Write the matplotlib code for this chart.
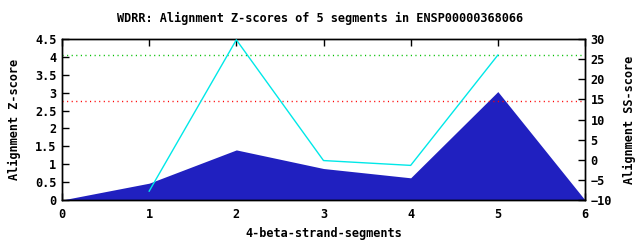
import numpy as np
import matplotlib
matplotlib.use("Agg")
import matplotlib.pyplot as plt

TITLE = "WDRR: Alignment Z-scores of 5 segments in ENSP00000368066"

SEGMENTS = [0, 1, 2, 3, 4, 5, 6]
Z_SCORES = [0.0, 0.47, 1.40, 0.88, 0.62, 3.03, 0.0]

SS_X = [1, 2, 3, 4, 5]
SS_SCORES = [-7.8, 29.8, -0.2, -1.4, 26.0]

RED_LEVEL = 2.78
GREEN_LEVEL = 4.04

FONT = dict(family="DejaVu Sans Mono", fontweight="bold", fontsize=8.6)

fig = plt.figure(figsize=(6.4, 2.4), dpi=100)
W, H = 640, 240
ax = fig.add_axes([62 / W, (H - 200) / H, (585 - 62) / W, (200 - 39) / H])
ax2 = ax.twinx()

DOTS = (0, (0.8, 2.5))
ax.fill_between(SEGMENTS, Z_SCORES, 0, color="#2020c0", lw=0, zorder=2)
ax.axhline(RED_LEVEL, color="#ff0000", lw=1, ls=DOTS, zorder=3)
ax.axhline(GREEN_LEVEL, color="#00c000", lw=1, ls=DOTS, zorder=3)
ax2.plot(SS_X, SS_SCORES, color="#00e8e8", lw=1, zorder=4)

ax.set_xlim(0, 6)
ax.set_ylim(0, 4.5)
ax2.set_ylim(-10, 30)
ax.set_xticks(range(7))
ax.set_yticks(np.arange(0, 4.51, 0.5))
ax.set_yticklabels(["0", "0.5", "1", "1.5", "2", "2.5", "3", "3.5", "4", "4.5"])
ax2.set_yticks(range(-10, 31, 5))

ax.tick_params(axis="x", direction="in", top=True, length=5, width=1, pad=6)
ax.tick_params(axis="y", direction="in", length=5, width=1, pad=4)
ax2.tick_params(axis="y", direction="in", length=5, width=1, pad=4)
for a in (ax, ax2):
    for lbl in a.get_xticklabels() + a.get_yticklabels():
        lbl.set_fontfamily(FONT["family"])
        lbl.set_fontweight("bold")
        lbl.set_fontsize(FONT["fontsize"])
    for s in a.spines.values():
        s.set_linewidth(1)
ax2.set_zorder(ax.get_zorder() + 1)
ax2.patch.set_visible(False)

ax.set_xlabel("4-beta-strand-segments", labelpad=4, **FONT)
ax.set_ylabel("Alignment Z-score", labelpad=10, **FONT)
ax2.set_ylabel("Alignment SS-score", labelpad=8, **FONT)
fig.text(0.5, 1 - 18 / H, TITLE, ha="center", va="center", **FONT)

fig.savefig("out.png", dpi=100)
